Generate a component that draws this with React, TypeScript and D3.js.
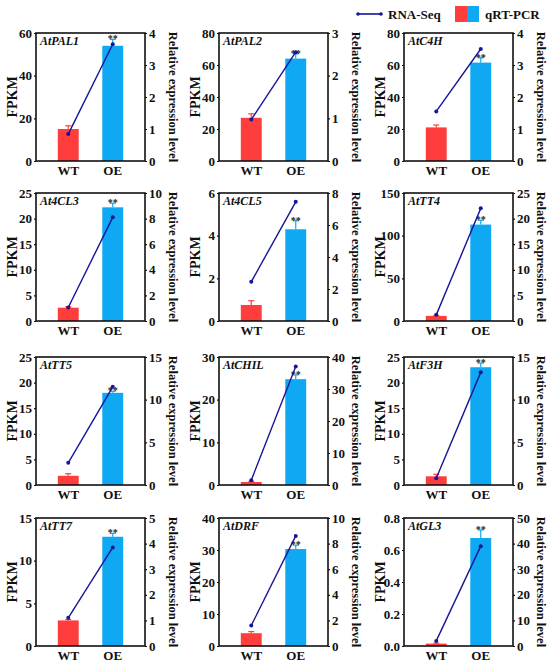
import * as d3 from 'd3'
import React, { useEffect, useRef } from 'react'

const genes = ['AtPAL1', 'AtPAL2', 'AtC4H', 'At4CL3', 'At4CL5', 'AtTT4', 'AtTT5', 'AtCHIL', 'AtF3H', 'AtTT7', 'AtDRF', 'AtGL3']
const groups = ['WT', 'OE']
// left axis (FPKM) domain + tick step
const leftMax = [60, 80, 80, 25, 6, 150, 25, 30, 25, 15, 40, 0.8]
const leftStep = [20, 20, 20, 5, 2, 50, 5, 10, 5, 5, 10, 0.2]
// right axis (relative expression)
const rightMax = [4, 3, 4, 10, 8, 25, 15, 40, 15, 5, 10, 50]
const rightStep = [1, 1, 1, 2, 2, 5, 5, 10, 5, 1, 2, 10]
// bars
const barWT = [15, 27, 21, 2.6, 0.75, 6, 1.8, 0.7, 1.7, 3.0, 4.0, 0.015]
const barOE = [54, 64, 61.5, 22.2, 4.3, 113, 18, 24.8, 23, 12.8, 30.3, 0.675]
const errWT = [1.5, 2.5, 1.5, 0.2, 0.2, 0.5, 0.4, 0.1, 0.4, 0.1, 0.5, 0.003]
const errOE = [3, 3, 3, 0.8, 0.4, 5, 0.3, 1, 0.8, 0.4, 1.2, 0.05]
// line (right axis)
const lineWT = [0.84, 0.97, 1.55, 1.05, 2.45, 1.2, 2.6, 1.5, 0.8, 1.1, 1.6, 2]
const lineOE = [3.65, 2.55, 3.5, 8.1, 7.45, 22, 11.5, 37, 13.2, 3.85, 8.6, 39]

const colLeft = [36, 219, 404]
const rowTop = [33, 193, 357, 518]
const W = 109
const H = 128
const red = '#ff3d3d'
const blue = '#0fa8f2'
const navy = '#15159a'
const font = "'Liberation Serif', 'DejaVu Serif', 'Times New Roman', serif"

export default function App() {
    const ref = useRef<SVGSVGElement>(null)
    useEffect(() => {
        const svg = d3.select(ref.current)
        svg.selectAll('*').remove()

        genes.forEach((g, i) => {
            const gx = colLeft[i % 3], gy = rowTop[Math.floor(i / 3)]
            const p = svg.append('g').attr('transform', `translate(${gx},${gy})`)
            const x = d3.scaleBand().domain(groups).range([0, W]).paddingInner(0.53).paddingOuter(0.49)
            const yl = d3.scaleLinear().domain([0, leftMax[i]]).range([H, 0])
            const yr = d3.scaleLinear().domain([0, rightMax[i]]).range([H, 0])
            const lt = d3.range(0, leftMax[i] + leftStep[i] / 2, leftStep[i])
            const rt = d3.range(0, rightMax[i] + rightStep[i] / 2, rightStep[i])
            const bars = [barWT[i], barOE[i]]
            const errs = [errWT[i], errOE[i]]
            const line = [lineWT[i], lineOE[i]]
            const cols = [red, blue]

            groups.forEach((k, j) => {
                const cx = x(k)! + x.bandwidth() / 2
                p.append('rect')
                    .attr('x', x(k)!)
                    .attr('y', yl(bars[j]))
                    .attr('width', x.bandwidth())
                    .attr('height', H - yl(bars[j]))
                    .attr('fill', cols[j])
                if (errs[j] > 0) {
                    const top = yl(bars[j] + errs[j])
                    p.append('line').attr('x1', cx).attr('x2', cx).attr('y1', yl(bars[j])).attr('y2', top)
                        .attr('stroke', cols[j]).attr('stroke-width', 1.2)
                    p.append('line').attr('x1', cx - 3).attr('x2', cx + 3).attr('y1', top).attr('y2', top)
                        .attr('stroke', cols[j]).attr('stroke-width', 1.2)
                }
                if (k == 'OE') {
                    p.append('text')
                        .attr('x', cx).attr('y', yl(bars[j] + errs[j]) + 3)
                        .attr('text-anchor', 'middle')
                        .style('font-size', '10px').style('font-family', font).style('font-weight', 'bold')
                        .attr('fill', '#222')
                        .text('**')
                }
            })

            const lineGen = d3.line<number>()
                .x((d, j) => x(groups[j])! + x.bandwidth() / 2)
                .y(d => yr(d))
            p.append('path').attr('d', lineGen(line)).attr('fill', 'none').attr('stroke', navy).attr('stroke-width', 1.4)
            p.selectAll('circle.pt').data(line).join('circle')
                .attr('cx', (d, j) => x(groups[j])! + x.bandwidth() / 2)
                .attr('cy', d => yr(d))
                .attr('r', 2).attr('fill', navy)

            // axes
            const la = p.append('g').call(d3.axisLeft(yl).tickValues(lt).tickSize(2).tickPadding(2)
                .tickFormat(leftMax[i] < 1 ? d3.format('.1f') : d3.format('d')))
            const ra = p.append('g').attr('transform', `translate(${W},0)`)
                .call(d3.axisRight(yr).tickValues(rt).tickSize(2).tickPadding(2).tickFormat(d3.format('d')))
            const xa = p.append('g').attr('transform', `translate(0,${H})`)
                .call(d3.axisBottom(x).tickSize(0).tickPadding(5))
            for (const a of [la, ra, xa]) {
                a.attr('font-family', null).attr('font-size', null)
                a.select('.domain').remove()
                a.selectAll('text').style('font-size', '13px').style('font-family', font).style('font-weight', 'bold').attr('fill', '#111')
                a.selectAll('line').attr('stroke', '#111').attr('stroke-width', 1.2)
            }
            p.append('rect').attr('width', W).attr('height', H).attr('fill', 'none')
                .attr('stroke', '#111').attr('stroke-width', 1.6)

            p.append('text').attr('x', 4).attr('y', 12)
                .style('font-size', '12px').style('font-style', 'italic').style('font-family', font).style('font-weight', 'bold')
                .attr('fill', '#111')
                .text(g)
            p.append('text')
                .attr('transform', `translate(${-19},${H / 2}) rotate(-90)`)
                .attr('text-anchor', 'middle')
                .style('font-size', '14px').style('font-family', font).style('font-weight', 'bold')
                .attr('fill', '#111')
                .text('FPKM')
            p.append('text')
                .attr('transform', `translate(${W + 24},${H / 2}) rotate(90)`)
                .attr('text-anchor', 'middle')
                .style('font-size', '12.5px').style('font-family', font).style('font-weight', 'bold')
                .attr('fill', '#111')
                .text('Relative expression level')
        })

        // legend
        const lg = svg.append('g')
        lg.append('line').attr('x1', 358).attr('x2', 381).attr('y1', 14).attr('y2', 14).attr('stroke', navy).attr('stroke-width', 1.6)
        lg.selectAll('circle').data([358, 381]).join('circle').attr('cx', d => d).attr('cy', 14).attr('r', 1.8).attr('fill', navy)
        lg.append('text').attr('x', 388).attr('y', 19)
            .style('font-size', '13px').style('font-family', font).style('font-weight', 'bold')
            .attr('fill', '#111').text('RNA-Seq')
        lg.append('rect').attr('x', 455).attr('y', 6).attr('width', 12).attr('height', 16).attr('fill', red)
        lg.append('rect').attr('x', 467).attr('y', 6).attr('width', 12).attr('height', 16).attr('fill', blue)
        lg.append('text').attr('x', 485).attr('y', 19)
            .style('font-size', '13px').style('font-family', font).style('font-weight', 'bold')
            .attr('fill', '#111').text('qRT-PCR')
    }, [])
    return (
        <svg ref={ref} width={550} height={667} viewBox='0 0 550 667'
            style={{ position: 'absolute', left: 0, top: 0, background: '#fff' }}></svg>
    )
}
